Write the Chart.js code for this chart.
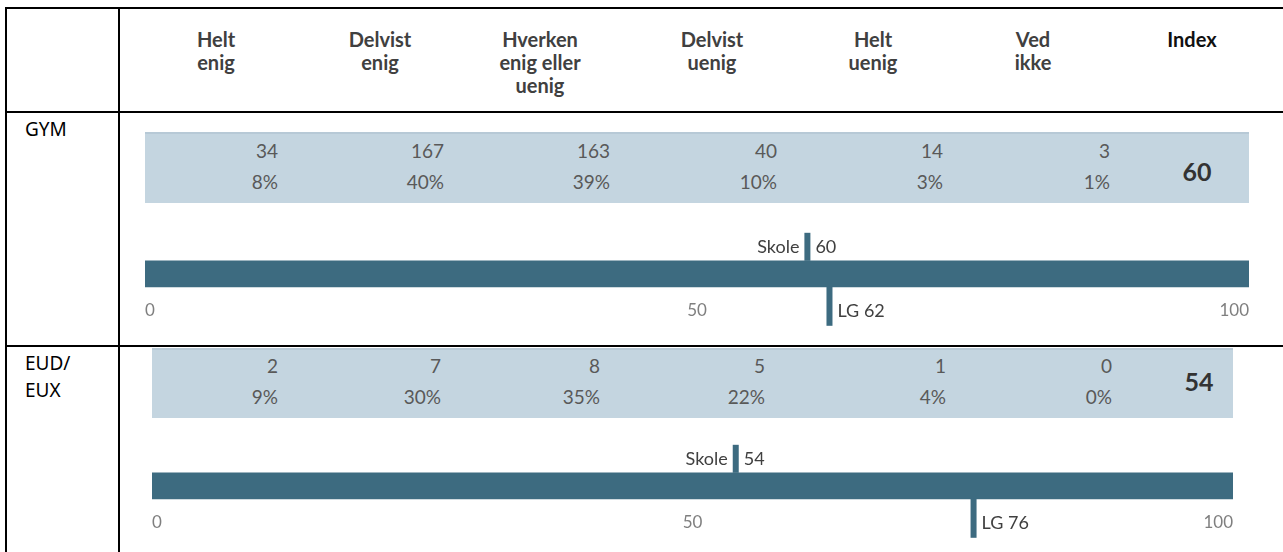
<!DOCTYPE html>
<html>
<head>
<meta charset="utf-8">
<script src="https://cdn.jsdelivr.net/npm/chart.js@4.4.0/dist/chart.umd.min.js"></script>
<style>
body{margin:0;background:#fff;width:1283px;height:552px;overflow:hidden;position:relative;font-family:Lato,sans-serif}
.ln{position:absolute;background:#000}
.hd{position:absolute;width:140px;text-align:center;font-weight:bold;font-size:20px;line-height:23px;color:#404040}
.grp{position:absolute;left:25px;font-family:"Noto Sans",sans-serif;font-size:19px;line-height:27px;color:#000}
.band{position:absolute;background:#c4d5e0;border-top:2px solid #b7c9d6;box-sizing:border-box}
.num{position:absolute;width:100px;text-align:right;font-size:19px;line-height:22px;color:#595959}
.idx{position:absolute;width:80px;text-align:center;font-weight:bold;font-size:25px;line-height:30px;color:#333}
canvas{position:absolute}
</style>
</head>
<body>
<script>
// column headers (one entry per line of text)
var columns = [["Helt","enig"],["Delvist","enig"],["Hverken","enig eller","uenig"],["Delvist","uenig"],["Helt","uenig"],["Ved","ikke"]];
var groups = [["GYM"],["EUD/","EUX"]];
var gymCounts = [34,167,163,40,14,3];
var gymPct = [8,40,39,10,3,1];
var eudCounts = [2,7,8,5,1,0];
var eudPct = [9,30,35,22,4,0];
var indexValues = [60,54];
var skoleValues = [60,54];
var lgValues = [62,76];
var scaleTicks = [0,50,100];

var counts = [gymCounts, eudCounts];
var pcts = [gymPct, eudPct];

// layout
var headCenters = [216,380,540,712,873,1033];
var rows = [
  {top:114, h:232, labelY:116, band:[145,132,1104,71], numY:[140,171], numRight:[278,444,610,777,943,1110], idxX:1197, idxY:156, barL:145, barR:1249, barTop:261},
  {top:348, h:204, labelY:350, band:[152,348,1081,70], numY:[355,386], numRight:[278,441,600,765,946,1112], idxX:1199, idxY:366, barL:152, barR:1233, barTop:473}
];

function el(cls, css, txt){
  var d = document.createElement('div');
  d.className = cls;
  Object.assign(d.style, css);
  if (txt != null) d.innerHTML = txt;
  document.body.appendChild(d);
  return d;
}

// table lines
el('ln', {left:'5px', top:'7px', width:'1278px', height:'2px'});
el('ln', {left:'5px', top:'111px', width:'1278px', height:'2px'});
el('ln', {left:'5px', top:'345px', width:'1278px', height:'2px'});
el('ln', {left:'5px', top:'7px', width:'2px', height:'545px'});
el('ln', {left:'118px', top:'7px', width:'2px', height:'545px'});

columns.forEach(function(c, i){
  el('hd', {left:(headCenters[i]-70)+'px', top:'28px'}, c.join('<br>'));
});
el('hd', {left:'1122px', top:'28px', color:'#111'}, 'Index');

var markerPlugin = {
  id: 'markers',
  afterDatasetsDraw: function(chart, args, opts){
    var ctx = chart.ctx, x = chart.scales.x;
    var bar = chart.getDatasetMeta(0).data[0];
    var top = bar.y - bar.height/2, bottom = bar.y + bar.height/2;
    var sx = x.getPixelForValue(opts.skole), lx = x.getPixelForValue(opts.lg);
    ctx.save();
    ctx.fillStyle = opts.color;
    ctx.fillRect(sx-3, top-28, 6, 28);
    ctx.fillRect(lx-3, bottom, 6, 39);
    ctx.fillStyle = '#404040';
    ctx.font = '18px Lato';
    ctx.textBaseline = 'middle';
    ctx.textAlign = 'right';
    ctx.fillText('Skole', sx-8, top-14);
    ctx.textAlign = 'left';
    ctx.fillText(String(opts.skole), sx+8, top-14);
    ctx.fillText('LG ' + opts.lg, lx+8, bottom+24);
    ctx.restore();
  }
};

rows.forEach(function(r, g){
  el('grp', {top:r.labelY+'px'}, groups[g].join('<br>'));
  el('band', {left:r.band[0]+'px', top:r.band[1]+'px', width:r.band[2]+'px', height:r.band[3]+'px'});
  counts[g].forEach(function(v, i){
    el('num', {left:(r.numRight[i]-100)+'px', top:r.numY[0]+'px'}, String(v));
    el('num', {left:(r.numRight[i]-100)+'px', top:r.numY[1]+'px'}, pcts[g][i] + '%');
  });
  el('idx', {left:(r.idxX-40)+'px', top:r.idxY+'px'}, String(indexValues[g]));

  var cv = document.createElement('canvas');
  cv.width = 1163; cv.height = r.h;
  cv.style.left = '120px'; cv.style.top = r.top + 'px';
  document.body.appendChild(cv);

  // chart area: bar centred, tick labels ~12px below area bottom
  var barC = r.barTop + 13;
  var areaBottom = barC + 24;
  var areaTop = barC - 24;
  new Chart(cv, {
    type: 'bar',
    data: {
      labels: ['Index'],
      datasets: [{data: [scaleTicks[scaleTicks.length-1]], backgroundColor: '#3d6b80', barThickness: 26}]
    },
    options: {
      indexAxis: 'y',
      responsive: false,
      animation: false,
      layout: {padding: {left: r.barL-120, right: 1283-r.barR, top: areaTop-r.top, bottom: (r.top+r.h) - (areaBottom+26)}},
      plugins: {
        legend: {display: false},
        tooltip: {enabled: false},
        markers: {skole: skoleValues[g], lg: lgValues[g], color: '#3d6b80'}
      },
      scales: {
        x: {
          min: scaleTicks[0], max: scaleTicks[scaleTicks.length-1],
          afterBuildTicks: function(s){ s.ticks = scaleTicks.map(function(v){ return {value: v}; }); },
          grid: {display: false, drawTicks: false},
          border: {display: false},
          ticks: {align: 'inner', padding: 3, color: '#7f7f7f', font: {family: 'Lato', size: 17}}
        },
        y: {display: false}
      }
    },
    plugins: [markerPlugin]
  });
});
</script>
</body>
</html>
